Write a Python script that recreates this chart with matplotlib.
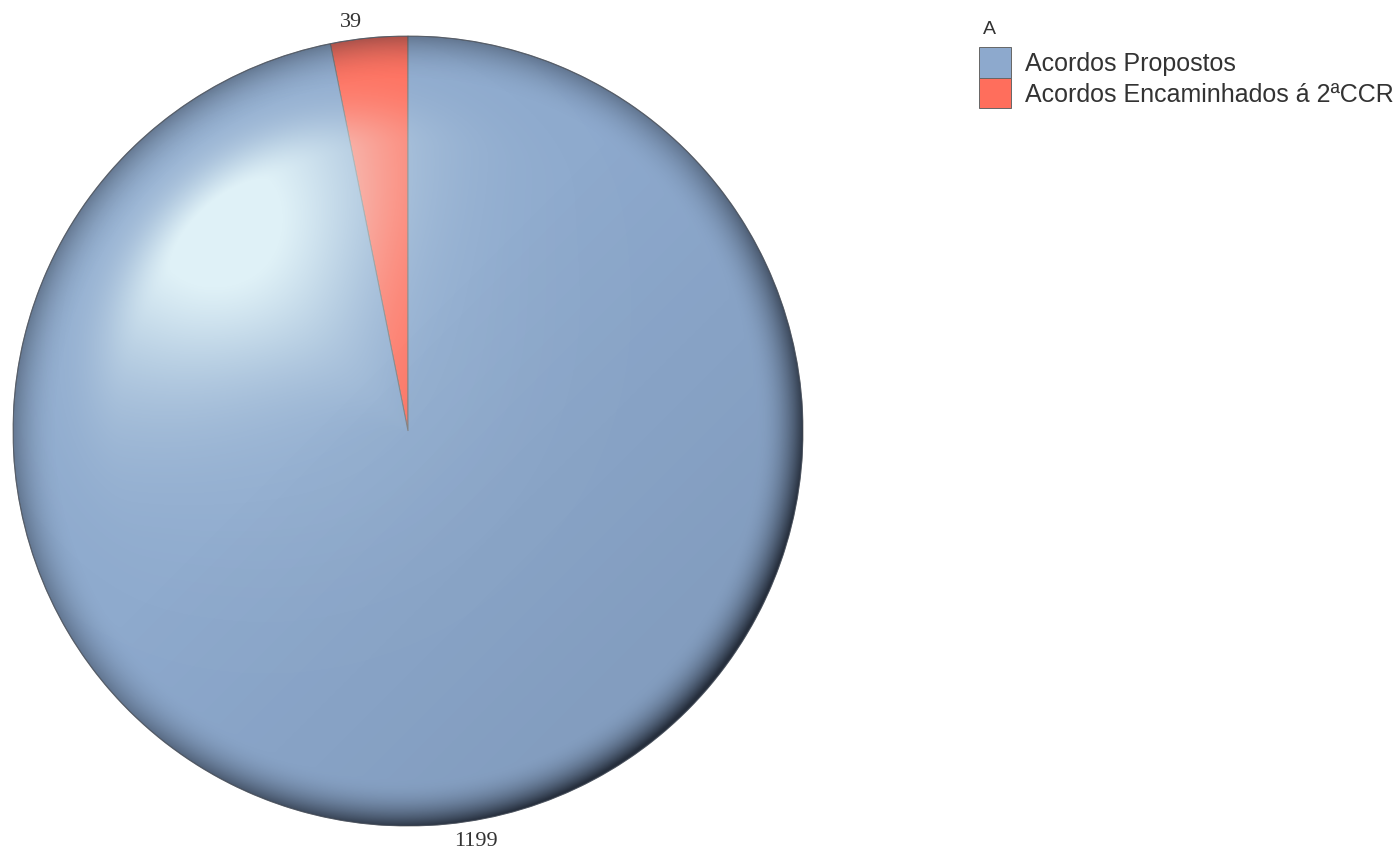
import matplotlib
matplotlib.use("Agg")
import matplotlib.pyplot as plt
from matplotlib.patches import Circle
import numpy as np

# Acordos: propostos vs. encaminhados à 2ªCCR
categorias = ["Acordos Propostos", "Acordos Encaminhados á 2ªCCR"]
valores = [1199, 39]
cores = ["#8DA9CD", "#FF6E5C"]
titulo_legenda = "A"

fig = plt.figure(figsize=(13.97, 8.54), dpi=100)
fig.patch.set_facecolor("white")

# pie area: centre (408, 432) px, radius 395 px
ax = fig.add_axes([13 / 1397, 27 / 854, 790 / 1397, 790 / 854])

# smaller slice starts at 12 o'clock and runs counter-clockwise
ordem = [1, 0]
wedges, _ = ax.pie([valores[i] for i in ordem], colors=[cores[i] for i in ordem],
                   startangle=90, counterclock=True, radius=1.0,
                   wedgeprops=dict(edgecolor="#7a7a7a", linewidth=0.7))

# 3D look: curved highlight band upper-left, darker rim towards lower-right
n = 900
g = np.linspace(-1, 1, n)
x, y = np.meshgrid(g, g)
r = np.hypot(x, y)
ang = np.degrees(np.arctan2(y, x))
dang = (ang - 132 + 180) % 360 - 180

perfil = np.where(r < 0.72,
                  np.exp(-(r - 0.72) ** 2 / (2 * 0.26 ** 2)),
                  np.exp(-(r - 0.72) ** 2 / (2 * 0.08 ** 2)))
luz = 0.85 * np.exp(-dang ** 2 / (2 * 24 ** 2)) * perfil
luz += 0.16 * np.exp(-((x + 0.35) ** 2 + (y - 0.30) ** 2) / (2 * 0.40 ** 2))
luz = np.clip(luz, 0, 0.85)

direcao = np.clip((x - y) / (np.sqrt(2) * np.maximum(r, 1e-6)), 0, 1)
borda = np.clip((r - 0.88) / 0.12, 0, 1) ** 2.2 * (0.35 + 0.5 * direcao)
gradiente = 0.10 * np.clip((x - y + 0.3) / 1.8, 0, 1)
sombra = np.clip(borda + gradiente, 0, 0.85)

branco = np.zeros((n, n, 4))
branco[..., :3] = [0.94, 1.0, 1.0]
branco[..., 3] = luz
preto = np.zeros((n, n, 4))
preto[..., :3] = [0.08, 0.1, 0.14]
preto[..., 3] = sombra

clip = Circle((0, 0), 1.0, transform=ax.transData)
for camada in (branco, preto):
    im = ax.imshow(camada, extent=[-1, 1, -1, 1], origin="lower",
                   interpolation="bilinear", zorder=3)
    im.set_clip_path(clip)

ax.add_patch(Circle((0, 0), 1.0, facecolor="none", edgecolor="#4a5566",
                    linewidth=0.8, alpha=0.6, zorder=4))

ax.set_xlim(-1, 1)
ax.set_ylim(-1, 1)
ax.set_aspect("equal")
ax.axis("off")

# value labels just outside the rim
for w in wedges:
    meio = np.deg2rad((w.theta1 + w.theta2) / 2)
    cx, cy = np.cos(meio), np.sin(meio)
    idx = ordem[wedges.index(w)]
    ax.annotate(str(valores[idx]), xy=(cx, cy),
                xytext=(5 if cx > 0 else -5, 5 if cy > 0 else -5),
                textcoords="offset points",
                ha="left" if cx > 0 else "right",
                va="bottom" if cy > 0 else "top",
                fontsize=16, family="Liberation Serif", color="#333333",
                annotation_clip=False, zorder=5)

handles = [wedges[ordem.index(i)] for i in range(len(categorias))]
leg = fig.legend(handles, categorias, loc="upper left",
                 bbox_to_anchor=(979 / 1397, 1 - 48 / 854),
                 frameon=False, borderpad=0, borderaxespad=0,
                 handlelength=1.28, handleheight=1.5, labelspacing=0,
                 handletextpad=0.55,
                 prop=dict(family="Liberation Sans", size=18))
for t in leg.get_texts():
    t.set_color("#333333")
for h in leg.legend_handles:
    h.set_edgecolor("#666666")
fig.text(983 / 1397, 1 - 30 / 854, titulo_legenda, fontsize=14,
         family="Liberation Sans", color="#333333", ha="left", va="center")

fig.savefig("out.png", dpi=100, facecolor="white")
